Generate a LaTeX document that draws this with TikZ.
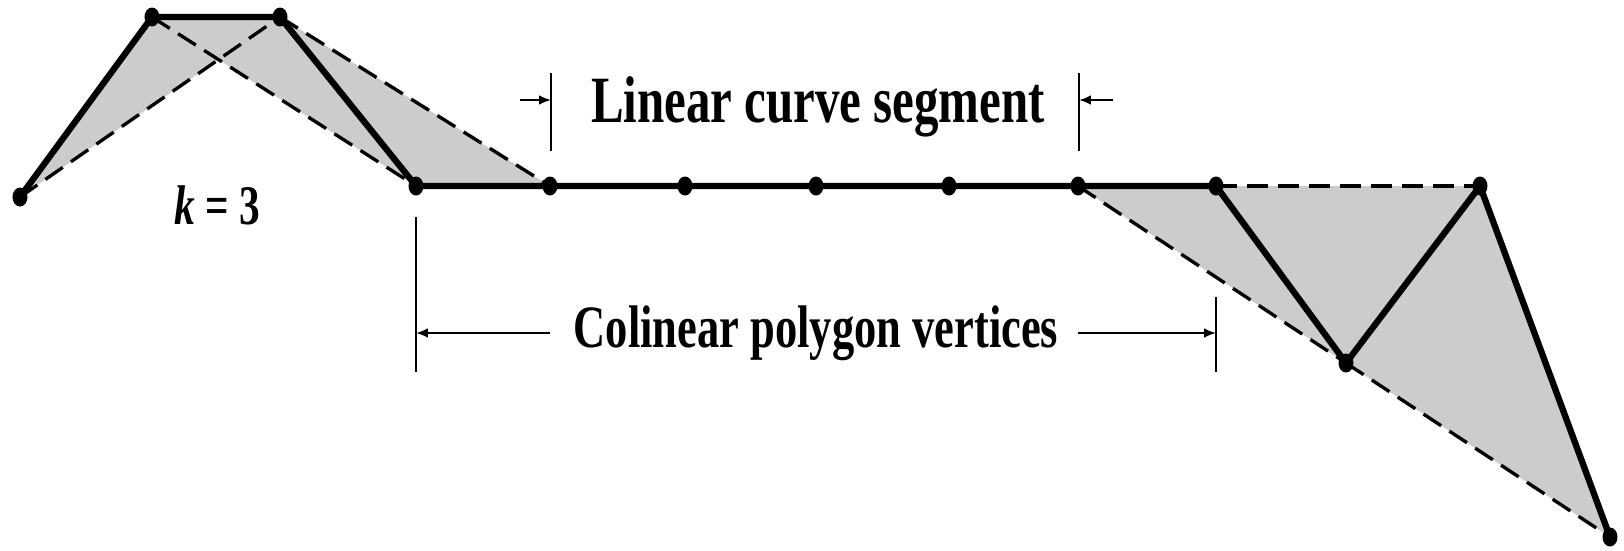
\documentclass[tikz,border=0pt]{standalone}
\usepackage{fontspec}
\setmainfont{Liberation Serif}[FakeStretch=0.74]
\usetikzlibrary{arrows.meta,shapes.geometric}

\begin{document}
\begin{tikzpicture}[x=0.01cm,y=-0.01cm,
  poly/.style={line width=1.8pt,line join=round},
  hull/.style={line width=0.95pt,dash pattern=on 6pt off 2.8pt},
  shade/.style={fill=black!20},
  dimline/.style={line width=0.65pt},
  dimarrow/.style={line width=0.65pt,-{Latex[length=3.4pt,width=2.8pt]}},
  vertex/.style={ellipse,fill=black,inner sep=0pt,minimum width=0.15cm,minimum height=0.19cm}]
  \useasboundingbox (0,0) rectangle (1624,550);

  % control points of the polygon
  \coordinate (p0) at (20,197);
  \coordinate (p1) at (152,17);
  \coordinate (p2) at (280,17);
  \coordinate (p3) at (416,186);
  \coordinate (p4) at (550,186);
  \coordinate (p5) at (685,186);
  \coordinate (p6) at (816,186);
  \coordinate (p7) at (949,186);
  \coordinate (p8) at (1078,186);
  \coordinate (p9) at (1216,186);
  \coordinate (p10) at (1346,363);
  \coordinate (p11) at (1480,186);
  \coordinate (p12) at (1610,537);

  % convex hulls, k = 3
  \foreach \a/\b/\c in {p0/p1/p2,p1/p2/p3,p2/p3/p4,p8/p9/p10,p9/p10/p11,p10/p11/p12}
    \fill[shade] (\a) -- (\b) -- (\c) -- cycle;
  \foreach \a/\b in {p0/p2,p1/p3,p2/p4,p8/p10,p9/p11,p10/p12}
    \draw[hull] (\a) -- (\b);

  % control polygon
  \draw[poly] (p0) -- (p1) -- (p2) -- (p3) -- (p4) -- (p5) -- (p6) -- (p7)
    -- (p8) -- (p9) -- (p10) -- (p11) -- (p12);
  \foreach \i in {0,...,12}
    \node[vertex] (v\i) at (p\i) {};

  \node[anchor=base,font=\bfseries\fontsize{15.9}{18}\selectfont] (kval) at (217,224) {\textit{k} = 3};

  % linear segment
  \node[anchor=base,font=\bfseries\fontsize{18.8}{22}\selectfont] (lin) at (818,122) {Linear curve segment};
  \coordinate (linA) at (551,73);
  \coordinate (linB) at (551,151);
  \coordinate (linC) at (1079,73);
  \coordinate (linD) at (1079,151);
  \coordinate (linE) at (520,100);
  \coordinate (linF) at (1113,100);
  \draw[dimline] (linA) -- (linB);
  \draw[dimline] (linC) -- (linD);
  \draw[dimarrow] (linE) -- (linE -| linA);
  \draw[dimarrow] (linF) -- (linF -| linC);

  % colinear vertices
  \node[anchor=base,font=\bfseries\fontsize{17.1}{20}\selectfont] (col) at (816,347) {Colinear polygon vertices};
  \coordinate (colA) at (416,217);
  \coordinate (colB) at (416,372);
  \coordinate (colC) at (1216,297);
  \coordinate (colD) at (1216,372);
  \coordinate (colE) at (550,333);
  \coordinate (colF) at (1078,333);
  \draw[dimline] (colA) -- (colB);
  \draw[dimline] (colC) -- (colD);
  \draw[dimarrow] (colE) -- (colE -| colA);
  \draw[dimarrow] (colF) -- (colF -| colC);
\end{tikzpicture}
\end{document}
